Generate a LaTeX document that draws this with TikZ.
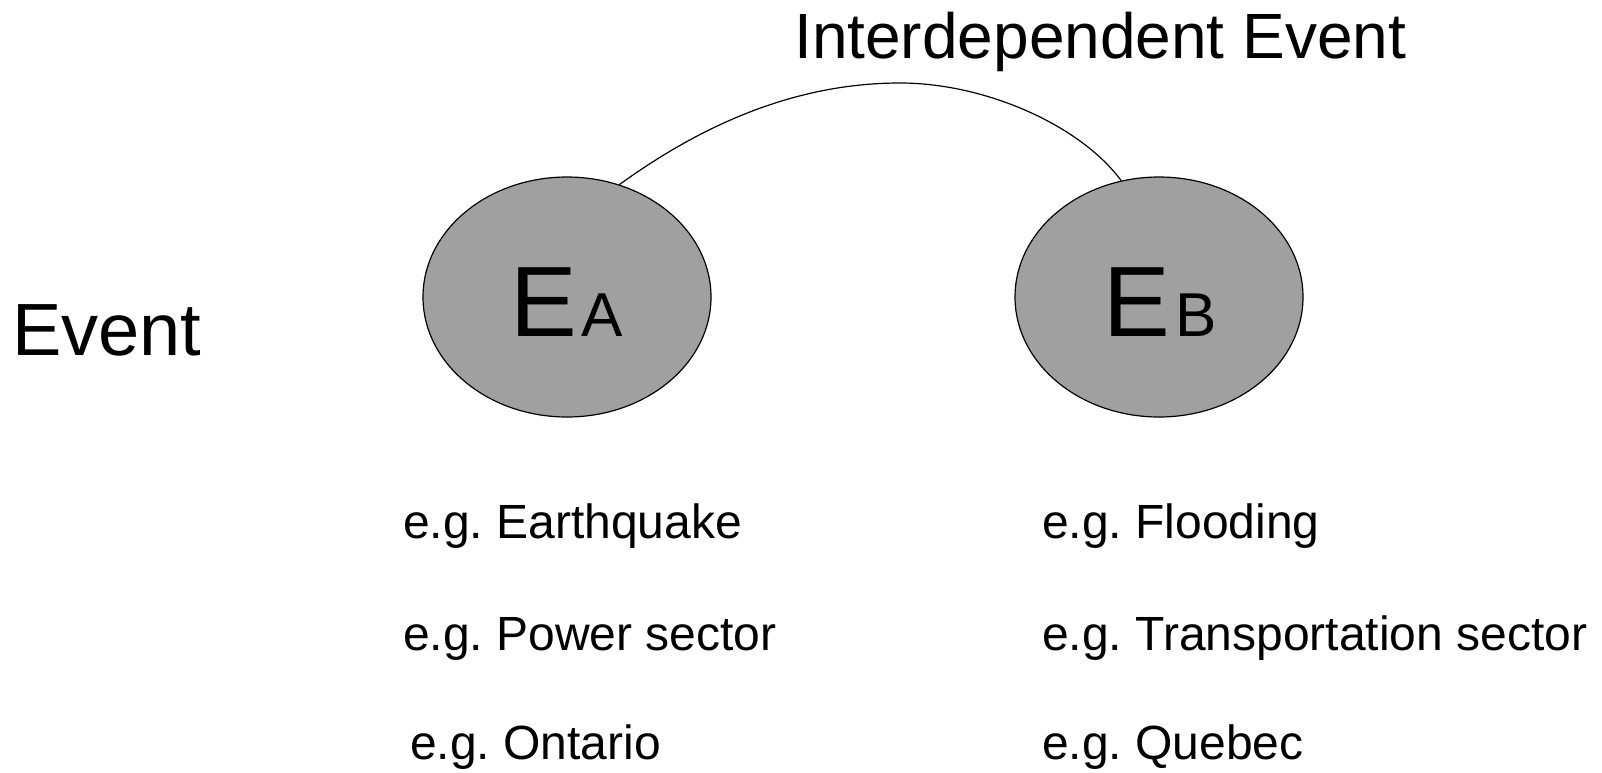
\documentclass[tikz,border=0pt]{standalone}
\usepackage{fontspec}
\setmainfont{Liberation Sans}
\usetikzlibrary{shapes.geometric}
\frenchspacing

\begin{document}
\begin{tikzpicture}[x=1pt,y=-1pt,
  event/.style={ellipse, draw=black, line width=1.2pt, fill=evgray,
    minimum width=288pt, minimum height=240pt, inner sep=0pt},
  evname/.style={anchor=base west, inner sep=0pt},
  headline/.style={anchor=base west, inner sep=0pt, font=\fontsize{64}{77}\selectfont},
  example/.style={anchor=base west, inner sep=0pt, font=\fontsize{48}{58}\selectfont},
  link/.style={line width=1.2pt}]
\definecolor{evgray}{RGB}{160,160,160}
\useasboundingbox (0,0) rectangle (1602,772);

% the two events
\node[event] (ea) at (567,297) {};
\node[event] (eb) at (1159,297) {};
\node[evname] (ealabel) at (510,336)
  {{\fontsize{100}{110}\selectfont E}\kern5pt{\fontsize{62}{70}\selectfont A}};
\node[evname] (eblabel) at (1103,336)
  {{\fontsize{100}{110}\selectfont E}\kern6pt{\fontsize{62}{70}\selectfont B}};

% side and top captions
\node[anchor=base west, inner sep=0pt, font=\fontsize{74}{88}\selectfont]
  (side) at (12,355) {Event};
\node[headline] (top) at (794,58) {Interdependent Event};

% arc joining the two events
\coordinate (crest) at (900,83);
\draw[link] (ea.65) .. controls (714,116) and (807,83) .. (crest)
            .. controls (985,83) and (1080,125) .. (eb.108);

% examples under each event
\node[example] (a1) at (403,538) {e.g. Earthquake};
\node[example] (a2) at (403,650) {e.g. Power sector};
\node[example] (a3) at (410,759) {e.g. Ontario};
\node[example] (b1) at (1042,538) {e.g. Flooding};
\node[example] (b2) at (1042,650) {e.g. Transportation sector};
\node[example] (b3) at (1042,759) {e.g. Quebec};
\end{tikzpicture}
\end{document}
